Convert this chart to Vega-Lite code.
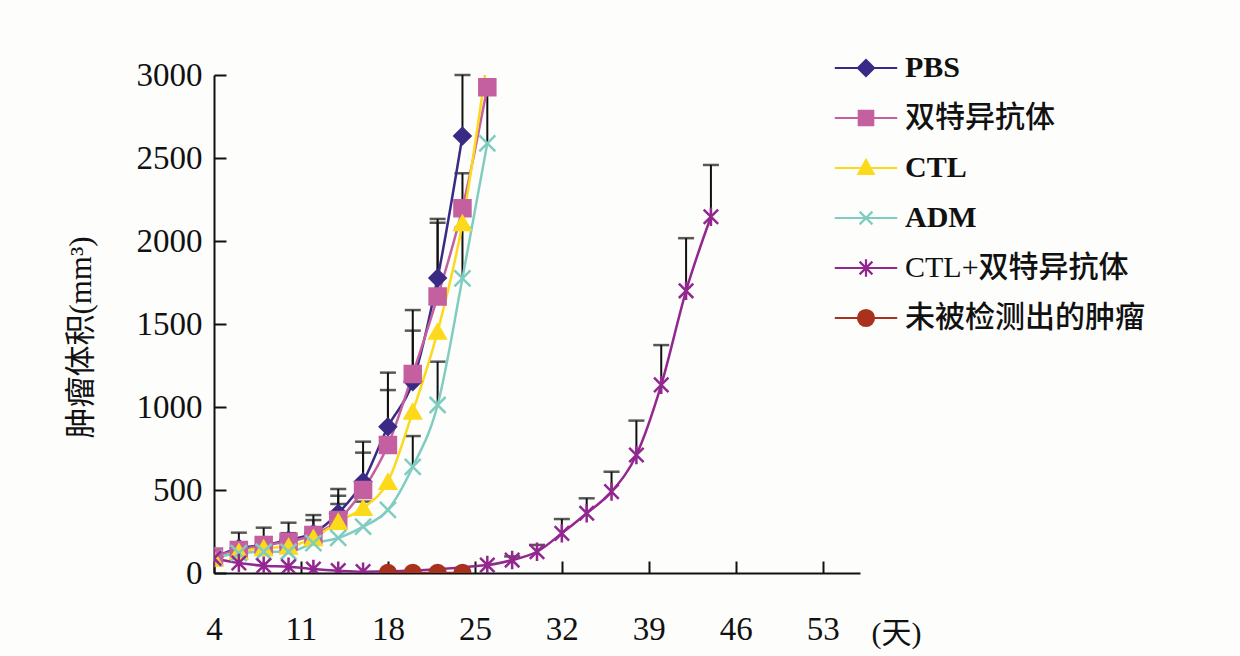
{
  "$schema": "https://vega.github.io/schema/vega-lite/v6.json",
  "width": 646,
  "height": 498,
  "autosize": {"type": "none"},
  "padding": {"left": 214, "top": 75, "right": 380, "bottom": 83},
  "background": "#fdfdfc",
  "config": {"view": {"stroke": null}, "font": "Liberation Serif"},
  "resolve": {"scale": {"color": "independent", "shape": "independent", "stroke": "independent"}},
  "data": {"values": [
    {"g": "PBS", "d": 4, "v": 95},
    {"g": "PBS", "d": 6, "v": 150, "u": 243},
    {"g": "PBS", "d": 8, "v": 168, "u": 273},
    {"g": "PBS", "d": 10, "v": 199, "u": 303},
    {"g": "PBS", "d": 12, "v": 240, "u": 349},
    {"g": "PBS", "d": 14, "v": 360, "u": 506},
    {"g": "PBS", "d": 16, "v": 550, "u": 791},
    {"g": "PBS", "d": 18, "v": 881, "u": 1207},
    {"g": "PBS", "d": 20, "v": 1152, "u": 1584},
    {"g": "PBS", "d": 22, "v": 1777, "u": 2133},
    {"g": "PBS", "d": 24, "v": 2633, "u": 3000},
    {"g": "双特异抗体", "d": 4, "v": 100},
    {"g": "双特异抗体", "d": 6, "v": 139},
    {"g": "双特异抗体", "d": 8, "v": 168},
    {"g": "双特异抗体", "d": 10, "v": 189, "u": 240},
    {"g": "双特异抗体", "d": 12, "v": 229, "u": 319},
    {"g": "双特异抗体", "d": 14, "v": 319, "u": 466},
    {"g": "双特异抗体", "d": 16, "v": 500, "u": 725},
    {"g": "双特异抗体", "d": 18, "v": 771, "u": 1102},
    {"g": "双特异抗体", "d": 20, "v": 1199, "u": 1460},
    {"g": "双特异抗体", "d": 22, "v": 1665, "u": 2110},
    {"g": "双特异抗体", "d": 24, "v": 2197, "u": 2408},
    {"g": "双特异抗体", "d": 26, "v": 2926},
    {"g": "CTL", "d": 4, "v": 85},
    {"g": "CTL", "d": 6, "v": 128},
    {"g": "CTL", "d": 8, "v": 150},
    {"g": "CTL", "d": 10, "v": 159},
    {"g": "CTL", "d": 12, "v": 211},
    {"g": "CTL", "d": 14, "v": 309, "u": 416},
    {"g": "CTL", "d": 16, "v": 392, "u": 430},
    {"g": "CTL", "d": 18, "v": 550},
    {"g": "CTL", "d": 20, "v": 972},
    {"g": "CTL", "d": 22, "v": 1454},
    {"g": "CTL", "d": 24, "v": 2108},
    {"g": "CTL", "d": 26, "v": 3100},
    {"g": "ADM", "d": 4, "v": 90},
    {"g": "ADM", "d": 6, "v": 120},
    {"g": "ADM", "d": 8, "v": 128},
    {"g": "ADM", "d": 10, "v": 128},
    {"g": "ADM", "d": 12, "v": 180},
    {"g": "ADM", "d": 14, "v": 211},
    {"g": "ADM", "d": 16, "v": 279},
    {"g": "ADM", "d": 18, "v": 380},
    {"g": "ADM", "d": 20, "v": 640, "u": 825},
    {"g": "ADM", "d": 22, "v": 1012, "u": 1273},
    {"g": "ADM", "d": 24, "v": 1775, "u": 2080},
    {"g": "ADM", "d": 26, "v": 2588, "u": 2950},
    {"g": "CTL+双特异抗体", "d": 4, "v": 88},
    {"g": "CTL+双特异抗体", "d": 6, "v": 60},
    {"g": "CTL+双特异抗体", "d": 8, "v": 44},
    {"g": "CTL+双特异抗体", "d": 10, "v": 38},
    {"g": "CTL+双特异抗体", "d": 12, "v": 24},
    {"g": "CTL+双特异抗体", "d": 14, "v": 14},
    {"g": "CTL+双特异抗体", "d": 16, "v": 8},
    {"g": "CTL+双特异抗体", "d": 26, "v": 48},
    {"g": "CTL+双特异抗体", "d": 28, "v": 78, "u": 100},
    {"g": "CTL+双特异抗体", "d": 30, "v": 128, "u": 169},
    {"g": "CTL+双特异抗体", "d": 32, "v": 239, "u": 325},
    {"g": "CTL+双特异抗体", "d": 34, "v": 360, "u": 450},
    {"g": "CTL+双特异抗体", "d": 36, "v": 490, "u": 610},
    {"g": "CTL+双特异抗体", "d": 38, "v": 711, "u": 918},
    {"g": "CTL+双特异抗体", "d": 40, "v": 1133, "u": 1373},
    {"g": "CTL+双特异抗体", "d": 42, "v": 1700, "u": 2017},
    {"g": "CTL+双特异抗体", "d": 44, "v": 2146, "u": 2458},
    {"g": "未被检测出的肿瘤", "d": 18, "v": 0},
    {"g": "未被检测出的肿瘤", "d": 20, "v": 0},
    {"g": "未被检测出的肿瘤", "d": 22, "v": 0},
    {"g": "未被检测出的肿瘤", "d": 24, "v": 0}
  ]},
  "encoding": {
    "x": {"field": "d", "type": "quantitative",
      "scale": {"domain": [4, 56], "nice": false, "zero": false},
      "axis": {"values": [4, 11, 18, 25, 32, 39, 46, 53], "grid": false, "labelFlush": false, "labelOverlap": false,
        "domainColor": "#111", "domainWidth": 2, "tickColor": "#111", "tickWidth": 2, "tickSize": -12,
        "labelPadding": 52, "labelFont": "Liberation Serif", "labelFontSize": 33, "labelColor": "#111",
        "title": "(天)", "titleX": 682, "titleY": 60, "titleAlign": "center", "titleBaseline": "middle", "titleAngle": 0,
        "titleFont": "Liberation Serif, Noto Sans CJK SC", "titleFontSize": 30, "titleFontWeight": "normal", "titleColor": "#111"}},
    "y": {"field": "v", "type": "quantitative",
      "scale": {"domain": [0, 3000], "nice": false},
      "axis": {"values": [0, 500, 1000, 1500, 2000, 2500, 3000], "format": "d", "grid": false, "labelFlush": false, "labelOverlap": false,
        "domainColor": "#111", "domainWidth": 2, "tickColor": "#111", "tickWidth": 2, "tickSize": -12,
        "labelPadding": 24, "labelFont": "Liberation Serif", "labelFontSize": 33, "labelColor": "#111",
        "title": "肿瘤体积(mm³)", "titleX": -133, "titleY": 262, "titleAlign": "center", "titleBaseline": "middle", "titleAngle": -90,
        "titleFont": "Liberation Serif, Noto Sans CJK SC", "titleFontSize": 31, "titleFontWeight": "normal", "titleColor": "#111"}}
  },
  "layer": [
    {
      "transform": [{"filter": "isValid(datum.u)"}],
      "mark": {"type": "rule", "color": "#111", "strokeWidth": 2},
      "encoding": {"y2": {"field": "u"}}
    },
    {
      "transform": [{"filter": "isValid(datum.u)"}],
      "mark": {"type": "tick", "orient": "horizontal", "color": "#111", "size": 16, "thickness": 2.5},
      "encoding": {"y": {"field": "u", "type": "quantitative"}}
    },
    {
      "mark": {"type": "line", "interpolate": "monotone", "strokeWidth": 2.5, "clip": true},
      "encoding": {
        "color": {"field": "g", "type": "nominal",
          "scale": {"domain": ["PBS", "双特异抗体", "CTL", "ADM", "CTL+双特异抗体", "未被检测出的肿瘤"],
            "range": ["#3a2a86", "#c4609f", "#fcd91a", "#7fcdc0", "#92278f", "#a8321e"]},
          "legend": null}
      }
    },
    {
      "mark": {"type": "point", "filled": true, "size": 256, "strokeWidth": 2.5, "opacity": 1, "clip": true},
      "encoding": {
        "color": {"field": "g", "type": "nominal",
          "scale": {"domain": ["PBS", "双特异抗体", "CTL", "ADM", "CTL+双特异抗体", "未被检测出的肿瘤"],
            "range": ["#3a2a86", "#c4609f", "#fcd91a", "#7fcdc0", "#92278f", "#a8321e"]},
          "legend": null},
        "stroke": {"field": "g", "type": "nominal",
          "scale": {"domain": ["PBS", "双特异抗体", "CTL", "ADM", "CTL+双特异抗体", "未被检测出的肿瘤"],
            "range": ["#3a2a86", "#c4609f", "#fcd91a", "#7fcdc0", "#92278f", "#a8321e"]},
          "legend": null},
        "shape": {"field": "g", "type": "nominal",
          "scale": {"domain": ["PBS", "双特异抗体", "CTL", "ADM", "CTL+双特异抗体", "未被检测出的肿瘤"],
            "range": ["diamond", "square", "triangle-up", "M-1,-1L1,1M-1,1L1,-1", "M-0.9,-0.9L0.9,0.9M-0.9,0.9L0.9,-0.9M0,-1.15V1.15", "circle"]},
          "legend": null}
      }
    },
    {
      "transform": [{"filter": "false"}],
      "mark": {"type": "point", "filled": true, "size": 256, "strokeWidth": 2, "opacity": 1},
      "encoding": {
        "color": {"field": "g", "type": "nominal",
          "scale": {"domain": ["PBS", "双特异抗体", "CTL", "ADM", "CTL+双特异抗体", "未被检测出的肿瘤"],
            "range": ["#3a2a86", "#c4609f", "#fcd91a", "#7fcdc0", "#92278f", "#a8321e"]},
          "legend": {
            "title": null, "orient": "none", "legendX": 637, "legendY": -22, "padding": 0,
            "labelFont": "Liberation Serif, Noto Sans CJK SC", "labelFontSize": 30,
            "labelFontWeight": {"expr": "datum.label === 'PBS' || datum.label === 'CTL' || datum.label === 'ADM' ? 'bold' : 500"},
            "labelColor": "#111",
            "labelOffset": 24, "rowPadding": 20, "symbolSize": 256, "symbolStrokeWidth": 2.2, "symbolOpacity": 1, "labelLimit": 400}},
        "stroke": {"field": "g", "type": "nominal",
          "scale": {"domain": ["PBS", "双特异抗体", "CTL", "ADM", "CTL+双特异抗体", "未被检测出的肿瘤"],
            "range": ["#3a2a86", "#c4609f", "#fcd91a", "#7fcdc0", "#92278f", "#a8321e"]},
          "legend": {
            "title": null, "orient": "none", "legendX": 637, "legendY": -22, "padding": 0,
            "labelFont": "Liberation Serif, Noto Sans CJK SC", "labelFontSize": 30,
            "labelFontWeight": {"expr": "datum.label === 'PBS' || datum.label === 'CTL' || datum.label === 'ADM' ? 'bold' : 500"},
            "labelColor": "#111",
            "labelOffset": 24, "rowPadding": 20, "symbolSize": 256, "symbolStrokeWidth": 2.2, "symbolOpacity": 1, "labelLimit": 400}},
        "shape": {"field": "g", "type": "nominal",
          "scale": {"domain": ["PBS", "双特异抗体", "CTL", "ADM", "CTL+双特异抗体", "未被检测出的肿瘤"],
            "range": ["M-3.9,0H3.9M0,-1L1,0L0,1L-1,0Z", "M-3.9,0H3.9M-0.9,-0.9H0.9V0.9H-0.9Z", "M-3.9,0H3.9M0,-1L0.95,0.75H-0.95Z", "M-3.9,0H3.9M-0.8,-0.8L0.8,0.8M-0.8,0.8L0.8,-0.8", "M-3.9,0H3.9M-0.8,-0.8L0.8,0.8M-0.8,0.8L0.8,-0.8M0,-1.1V1.1", "M-3.9,0H3.9M1,0A1,1,0,1,1,-1,0A1,1,0,1,1,1,0Z"]},
          "legend": {
            "title": null, "orient": "none", "legendX": 637, "legendY": -22, "padding": 0,
            "labelFont": "Liberation Serif, Noto Sans CJK SC", "labelFontSize": 30,
            "labelFontWeight": {"expr": "datum.label === 'PBS' || datum.label === 'CTL' || datum.label === 'ADM' ? 'bold' : 500"},
            "labelColor": "#111",
            "labelOffset": 24, "rowPadding": 20, "symbolSize": 256, "symbolStrokeWidth": 2.2, "symbolOpacity": 1, "labelLimit": 400}}
      }
    }
  ]
}
